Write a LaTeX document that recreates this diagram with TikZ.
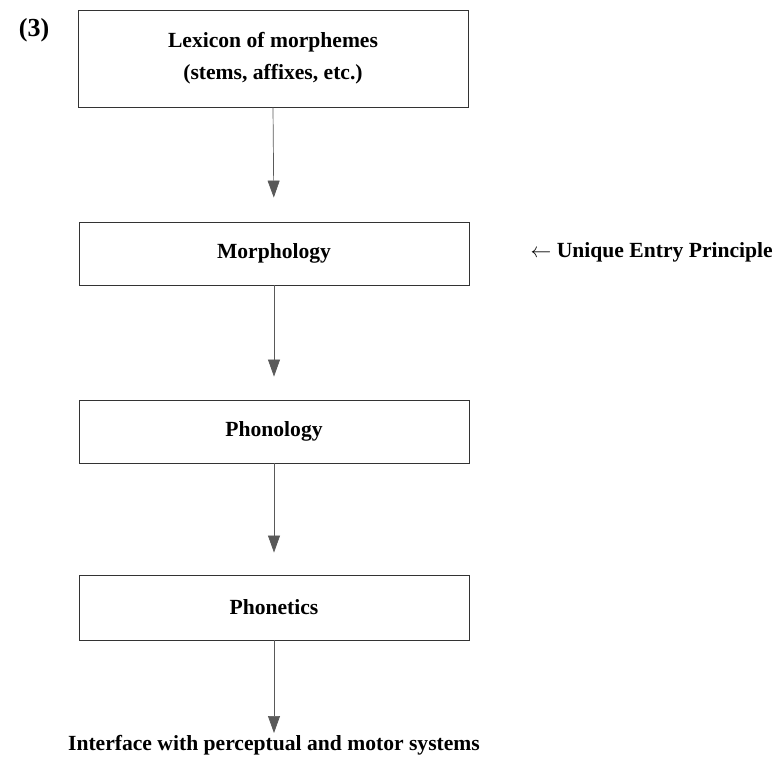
\documentclass[tikz,border=0pt]{standalone}
\usepackage{fontspec}
\setmainfont{Liberation Serif}
\usetikzlibrary{arrows.meta}
\begin{document}
\begin{tikzpicture}[x=1pt,y=-1pt,
  box/.style={draw=black!80, line width=0.9pt, minimum width=390pt, inner sep=0pt,
    font=\bfseries\fontsize{21.6}{32}\selectfont, align=center},
  link/.style={draw=black!65, line width=0.7pt, -{Triangle[width=12pt,length=17pt]}},
  lbl/.style={font=\bfseries\fontsize{21.6}{26}\selectfont, inner sep=0pt}]
\useasboundingbox (0,0) rectangle (777,761);
\node[box, minimum height=97pt] (lex) at (273,58.5) {Lexicon of morphemes\\(stems, affixes, etc.)};
\node[box, minimum height=63pt] (mor) at (274,253.5) {Morphology};
\node[box, minimum height=63pt] (pho) at (274,431.5) {Phonology};
\node[box, minimum height=65pt] (phn) at (274,607.5) {Phonetics};
\node[lbl, anchor=north] (ifc) at (274,735) {Interface with perceptual and motor systems};
\node[lbl, anchor=east] (uep) at (773,252) {$\leftarrow$ Unique Entry Principle};
\node[lbl, font=\bfseries\fontsize{26}{30}\selectfont] (num) at (34,30) {(3)};
\draw[link, shorten >=24pt] (lex.south) -- (mor.north);
\draw[link, shorten >=23pt] (mor.south) -- (pho.north);
\draw[link, shorten >=22pt] (pho.south) -- (phn.north);
\draw[link, shorten >=2pt] (phn.south) -- (ifc.north);
\end{tikzpicture}
\end{document}
